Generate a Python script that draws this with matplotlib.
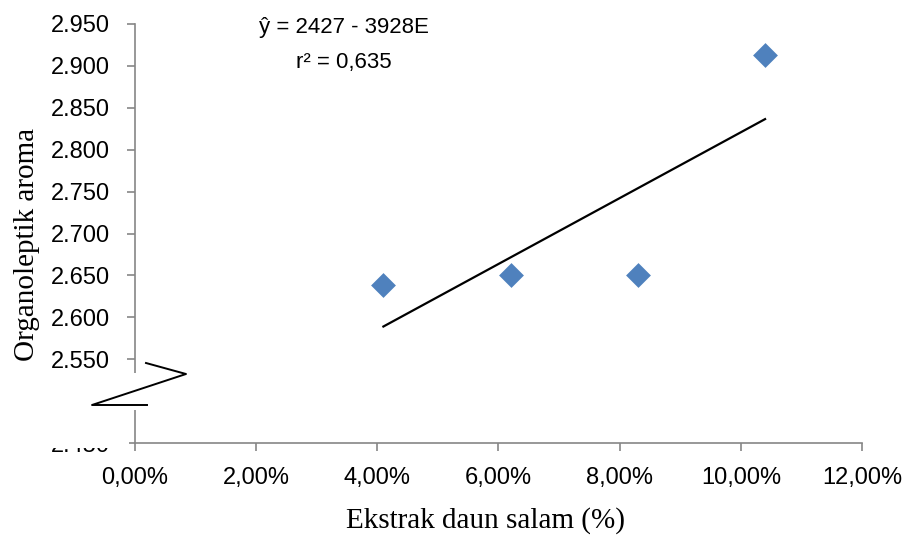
import numpy as np
import matplotlib
matplotlib.use("Agg")
import matplotlib.pyplot as plt
from matplotlib.ticker import FuncFormatter
from matplotlib.patches import Rectangle

# data
ekstrak = [4.1, 6.2, 8.3, 10.4]          # %
aroma = [2.638, 2.650, 2.650, 2.913]
persamaan = "ŷ = 2427 - 3928E"
r_kuadrat = "r² = 0,635"

x_ticks = [0, 2, 4, 6, 8, 10, 12]
y_ticks = [2.45, 2.50, 2.55, 2.60, 2.65, 2.70, 2.75, 2.80, 2.85, 2.90, 2.95]

W, H = 904, 535
tick_font = ['Liberation Sans', 'DejaVu Sans']
serif_font = ['Liberation Serif', 'DejaVu Serif']


def px_rect(x0, y0, x1, y1, z):
    # white box given in pixel coords (top-left origin)
    return Rectangle((x0 / W, 1 - y1 / H), (x1 - x0) / W, (y1 - y0) / H,
                     transform=fig.transFigure, facecolor="white",
                     edgecolor="none", zorder=z)


fig = plt.figure(figsize=(W / 100, H / 100), dpi=100)
ax = fig.add_axes([135 / W, 1 - 443 / H, (862 - 135) / W, (443 - 24) / H])

ax.scatter(ekstrak, aroma, marker="D", s=160, color="#4F81BD", zorder=3, linewidths=0)

# linear trendline over the data range
k, b = np.polyfit(ekstrak, aroma, 1)
xl = np.array([min(ekstrak), max(ekstrak)])
ax.plot(xl, k * xl + b, color="black", lw=1.6)

ax.set_xlim(0, 12)
ax.set_ylim(2.45, 2.95)
ax.set_xticks(x_ticks)
ax.set_yticks(y_ticks)
ax.xaxis.set_major_formatter(FuncFormatter(lambda v, p: f"{v:.2f}%".replace(".", ",")))
ax.yaxis.set_major_formatter(FuncFormatter(lambda v, p: f"{v:.3f}"))

for s in ["top", "right"]:
    ax.spines[s].set_visible(False)
for s in ["left", "bottom"]:
    ax.spines[s].set_color("#868686")
    ax.spines[s].set_linewidth(1.2)
ax.tick_params(axis="both", color="#868686", width=1.2, length=6, labelsize=17)
ax.tick_params(axis="y", pad=12)
ax.tick_params(axis="x", pad=11)
for lab in ax.get_xticklabels() + ax.get_yticklabels():
    lab.set_family(tick_font)

# axis break on the y axis
fig.add_artist(px_rect(40, 373, 140, 410, 7))
zx = np.array([146, 186, 92, 147]) / W
zy = 1 - np.array([363, 374, 405, 405]) / H
fig.add_artist(plt.Line2D(zx, zy, color="black", lw=1.4, zorder=8))
# bottom label mostly hidden
fig.add_artist(px_rect(40, 425, 129, 448, 7))
fig.add_artist(px_rect(40, 452, 129, 462, 7))

fig.text(344 / W, 1 - 28 / H, persamaan, ha="center", va="center", fontsize=16, family=tick_font)
fig.text(344 / W, 1 - 62 / H, r_kuadrat, ha="center", va="center", fontsize=16, family=tick_font)

fig.text(27 / W, 1 - 244 / H, "Organoleptik aroma", rotation=90, ha="center", va="center",
         fontsize=21, family=serif_font)
fig.text(486 / W, 1 - 521 / H, "Ekstrak daun salam (%)", ha="center", va="center",
         fontsize=21, family=serif_font)

fig.savefig("out.png", dpi=100)
